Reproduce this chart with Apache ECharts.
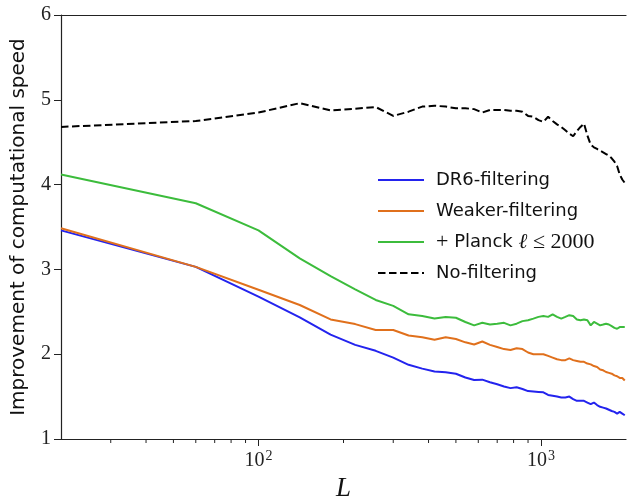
<!DOCTYPE html>
<html>
<head>
<meta charset="utf-8">
<script src="https://cdn.jsdelivr.net/npm/echarts@6/dist/echarts.min.js"></script>
<style>
  html, body { margin: 0; padding: 0; background: #fff; }
  #chart { width: 627px; height: 497px; }
</style>
</head>
<body>
<div id="chart"></div>
<script>
// multipole L (bin centres)
const ells = [20, 60, 100, 140, 180, 220, 260, 300, 340, 380,
  420, 460, 500, 540, 580, 620, 660, 700, 740, 780,
  820, 860, 900, 940, 980, 1020, 1060, 1100, 1140, 1180,
  1220, 1260, 1300, 1340, 1380, 1420, 1460, 1500, 1540, 1580,
  1620, 1660, 1700, 1740, 1780, 1820, 1860, 1900, 1940, 1980];

const dr6 = [3.46, 3.03, 2.68, 2.435, 2.23, 2.11, 2.04, 1.96, 1.875, 1.83,
  1.795, 1.787, 1.77, 1.725, 1.695, 1.70, 1.67, 1.645, 1.62, 1.60,
  1.61, 1.59, 1.565, 1.56, 1.555, 1.55, 1.52, 1.51, 1.50, 1.49,
  1.49, 1.50, 1.47, 1.45, 1.45, 1.45, 1.43, 1.41, 1.43, 1.40,
  1.38, 1.37, 1.36, 1.345, 1.33, 1.32, 1.30, 1.32, 1.30, 1.28];

const weaker = [3.485, 3.03, 2.76, 2.58, 2.41, 2.355, 2.285, 2.285, 2.22, 2.20,
  2.17, 2.20, 2.18, 2.14, 2.115, 2.15, 2.11, 2.085, 2.06, 2.05,
  2.07, 2.06, 2.02, 2.00, 2.00, 2.00, 1.98, 1.96, 1.94, 1.93,
  1.93, 1.95, 1.93, 1.92, 1.91, 1.91, 1.89, 1.88, 1.86, 1.85,
  1.82, 1.81, 1.79, 1.78, 1.77, 1.75, 1.74, 1.72, 1.72, 1.69];

const planck = [4.12, 3.78, 3.46, 3.13, 2.92, 2.765, 2.64, 2.57, 2.47, 2.45,
  2.42, 2.44, 2.43, 2.38, 2.34, 2.37, 2.35, 2.36, 2.37, 2.34,
  2.36, 2.39, 2.40, 2.42, 2.44, 2.45, 2.44, 2.47, 2.44, 2.42,
  2.44, 2.46, 2.45, 2.41, 2.40, 2.41, 2.40, 2.34, 2.38, 2.36,
  2.34, 2.35, 2.36, 2.35, 2.33, 2.31, 2.30, 2.32, 2.32, 2.32];

const noFilt = [4.68, 4.75, 4.85, 4.96, 4.875, 4.895, 4.915, 4.81, 4.86, 4.92,
  4.93, 4.92, 4.90, 4.90, 4.89, 4.85, 4.88, 4.88, 4.88, 4.87,
  4.87, 4.86, 4.81, 4.80, 4.76, 4.74, 4.80, 4.75, 4.71, 4.68,
  4.64, 4.60, 4.57, 4.63, 4.68, 4.72, 4.58, 4.47, 4.44, 4.42,
  4.40, 4.38, 4.36, 4.34, 4.31, 4.27, 4.22, 4.12, 4.06, 4.02];

const names = ['DR6-filtering', 'Weaker-filtering', '+ Planck ℓ ≤ 2000', 'No-filtering'];
const minorTicks = [30, 40, 50, 60, 70, 80, 90, 200, 300, 400, 500, 600, 700, 800, 900];

const serif = 'Liberation Serif, DejaVu Serif, serif';
const sans = 'DejaVu Sans, sans-serif';

const zip = ys => ells.map((l, i) => [l, ys[i]]);

const lineSeries = (name, ys, color, type) => ({
  name: name,
  type: 'line',
  data: zip(ys),
  symbol: 'none',
  animation: false,
  lineStyle: { color: color, width: 2, type: type || 'solid' },
  itemStyle: { color: color }
});

const chart = echarts.init(document.getElementById('chart'), null, { renderer: 'canvas' });

const option = {
  backgroundColor: '#fff',
  animation: false,
  grid: { left: 61, right: 1, top: 15, bottom: 58, outerBoundsMode: 'none', containLabel: false },
  legend: {
    data: names,
    orient: 'vertical',
    left: 372,
    top: 164,
    itemWidth: 46,
    itemHeight: 14,
    itemGap: 9,
    itemStyle: { opacity: 0 },
    textStyle: {
      fontFamily: sans,
      fontSize: 18,
      color: '#111',
      lineHeight: 22,
      padding: [0, 0, 0, 7],
      rich: {
        s: { fontFamily: serif, fontSize: 22, color: '#111' },
        m: { fontFamily: serif, fontSize: 21, fontStyle: 'italic', color: '#111' }
      }
    },
    formatter: name => name.startsWith('+')
      ? '{s|+} Planck {m|ℓ} {s|≤ 2000}'
      : name
  },
  xAxis: [{
    type: 'log',
    logBase: 10,
    min: 20,
    max: 2000,
    name: 'L',
    nameLocation: 'middle',
    nameGap: 31,
    nameTextStyle: { fontFamily: serif, fontStyle: 'italic', fontSize: 27, color: '#111' },
    axisLine: { lineStyle: { color: '#222', width: 1.2 } },
    axisTick: { length: 7, lineStyle: { color: '#222' } },
    splitLine: { show: false },
    axisLabel: {
      margin: 10,
      showMinLabel: false,
      showMaxLabel: false,
      formatter: v => {
        const e = Math.log10(v);
        if (Math.abs(e - Math.round(e)) > 1e-6) return '';
        return '{b|10}{sup|' + Math.round(e) + '}';
      },
      rich: {
        b: { fontFamily: serif, fontSize: 20, color: '#222' },
        sup: { fontFamily: serif, fontSize: 14, color: '#222', verticalAlign: 'top', padding: [0, 0, 10, 1] }
      }
    }
  }, {
    type: 'log',
    logBase: 10,
    min: 20,
    max: 2000,
    position: 'top',
    axisLine: { lineStyle: { color: '#222', width: 1.2 } },
    axisTick: { show: false },
    axisLabel: { show: false },
    splitLine: { show: false }
  }],
  yAxis: {
    type: 'value',
    min: 1,
    max: 6,
    interval: 1,
    name: 'Improvement of computational speed',
    nameLocation: 'middle',
    nameGap: 32,
    nameTextStyle: { fontFamily: sans, fontSize: 20, color: '#111' },
    axisLine: { show: true, lineStyle: { color: '#222', width: 1.2 } },
    axisTick: { show: true, length: 7, lineStyle: { color: '#222' } },
    splitLine: { show: false },
    axisLabel: { margin: 10, fontFamily: serif, fontSize: 20, color: '#222' }
  },
  series: [
    lineSeries(names[0], dr6, '#2323ee'),
    lineSeries(names[1], weaker, '#e0701c'),
    lineSeries(names[2], planck, '#3cbc3c'),
    lineSeries(names[3], noFilt, '#000', [7.5, 3.5]),
    {
      // minor ticks of the log axis
      type: 'custom',
      silent: true,
      clip: false,
      data: minorTicks.map(v => [v, 1]),
      renderItem: (params, api) => {
        const p = api.coord([api.value(0), api.value(1)]);
        return {
          type: 'line',
          shape: { x1: p[0], y1: p[1], x2: p[0], y2: p[1] + 4 },
          style: { stroke: '#222', lineWidth: 1 }
        };
      }
    }
  ]
};

chart.setOption(option);
</script>
</body>
</html>
